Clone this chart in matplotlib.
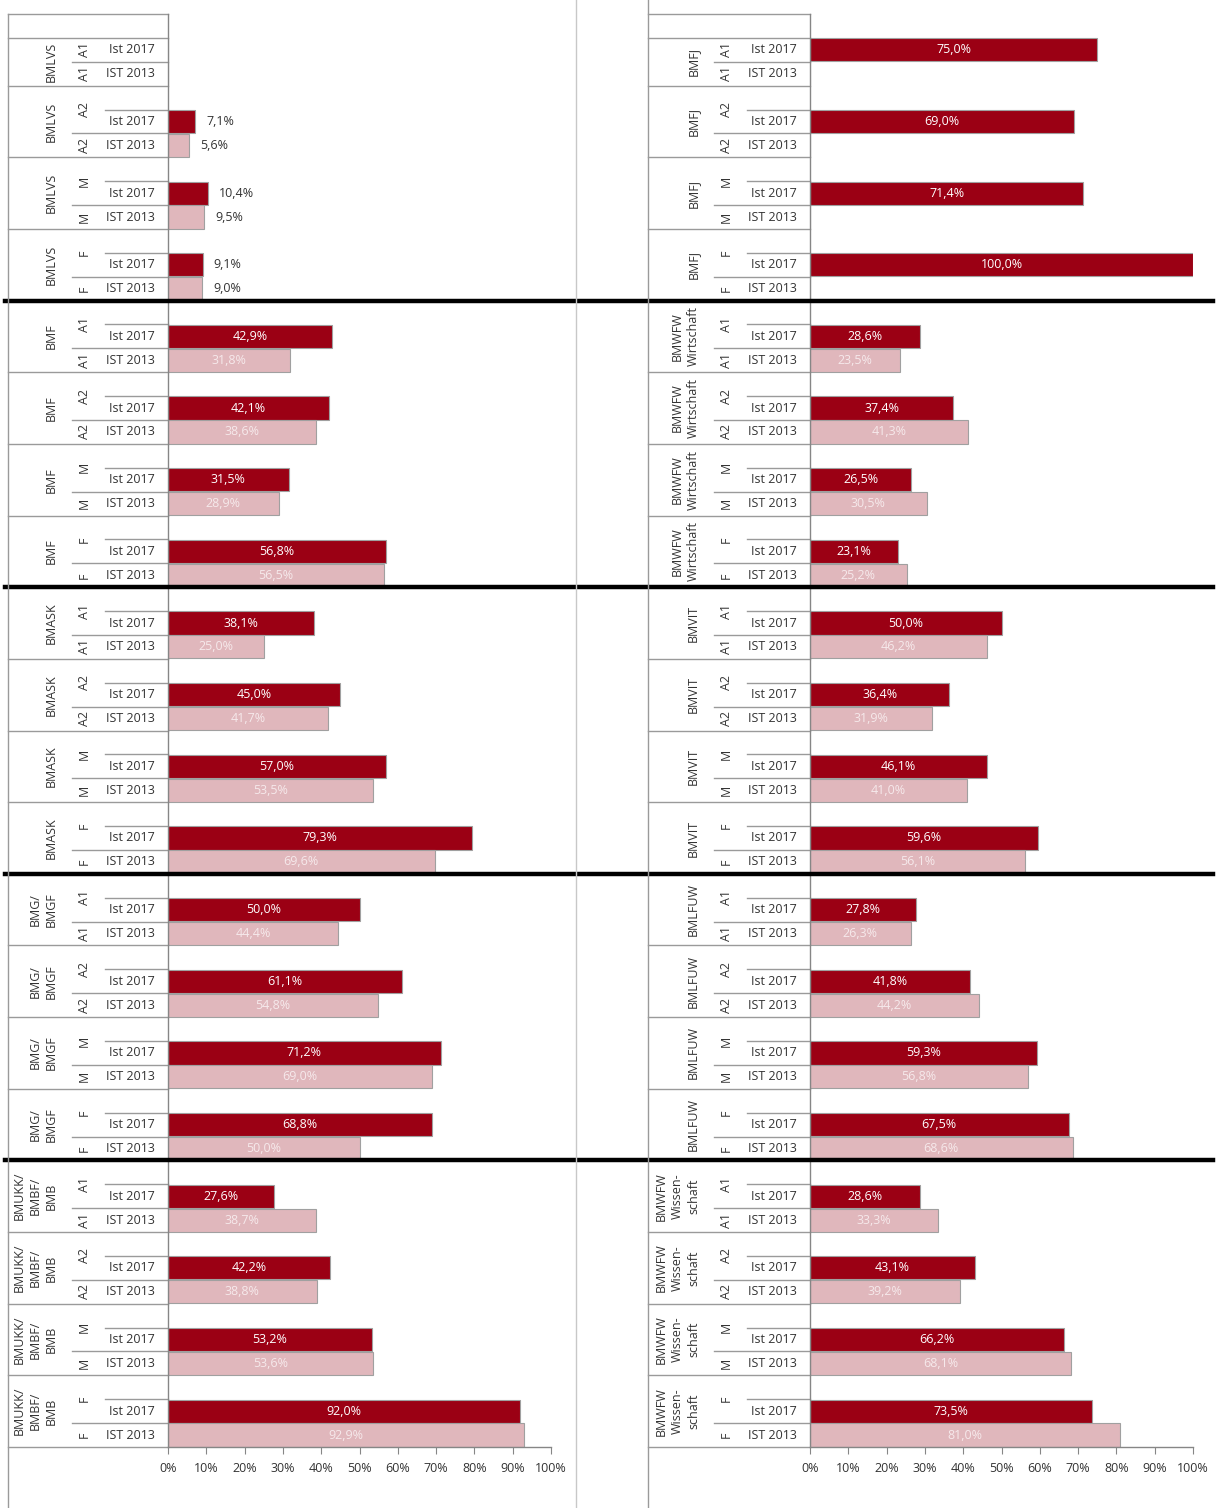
import numpy as np
import matplotlib
matplotlib.use("Agg")
import matplotlib.pyplot as plt
from matplotlib import transforms
from matplotlib.lines import Line2D

plt.rcParams['font.family'] = ['Open Sans', 'DejaVu Sans']
plt.rcParams['font.size'] = 9

nan = np.nan

# data (percent), order per panel: ministry x (A1, A2, M, F)
categories = ["A1", "A2", "M", "F"]
year_labels = ["Ist 2017", "IST 2013"]

left_ministries = ["BMLVS", "BMF", "BMASK", "BMG/\nBMGF", "BMUKK/\nBMBF/\nBMB"]
left_ist2017 = [nan, 7.1, 10.4, 9.1,
                42.9, 42.1, 31.5, 56.8,
                38.1, 45.0, 57.0, 79.3,
                50.0, 61.1, 71.2, 68.8,
                27.6, 42.2, 53.2, 92.0]
left_ist2013 = [nan, 5.6, 9.5, 9.0,
                31.8, 38.6, 28.9, 56.5,
                25.0, 41.7, 53.5, 69.6,
                44.4, 54.8, 69.0, 50.0,
                38.7, 38.8, 53.6, 92.9]

right_ministries = ["BMFJ", "BMWFW\nWirtschaft", "BMVIT", "BMLFUW", "BMWFW\nWissen-\nschaft"]
right_ist2017 = [75.0, 69.0, 71.4, 100.0,
                 28.6, 37.4, 26.5, 23.1,
                 50.0, 36.4, 46.1, 59.6,
                 27.8, 41.8, 59.3, 67.5,
                 28.6, 43.1, 66.2, 73.5]
right_ist2013 = [nan, nan, nan, nan,
                 23.5, 41.3, 30.5, 25.2,
                 46.2, 31.9, 41.0, 56.1,
                 26.3, 44.2, 56.8, 68.6,
                 33.3, 39.2, 68.1, 81.0]

DARK = "#9b0014"
LIGHT = "#e0b7bc"
EDGE = "#a0a0a0"
GRID = "#9a9a9a"
TXT = "#333333"

W, H = 1218, 1508
fig = plt.figure(figsize=(W / 100, H / 100), dpi=100)

top_px, bot_px = 14, 1447
ax_w_px = 383
n_rows = 60


def fmt(v):
    return f"{v:.1f}".replace(".", ",") + "%"


def draw_panel(ax_left_px, table_px, ministries, v17, v13):
    ax = fig.add_axes([ax_left_px / W, 1 - bot_px / H, ax_w_px / W, (bot_px - top_px) / H])
    ax.set_xlim(0, 100)
    ax.set_ylim(n_rows, 0)
    px = lambda p: p / ax_w_px  # pixels -> axes fraction
    tr = transforms.blended_transform_factory(ax.transAxes, ax.transData)

    n_groups = len(v17)
    rows17 = np.array([3 * k + 1.5 for k in range(n_groups)])
    rows13 = rows17 + 1
    a17 = np.array(v17, dtype=float)
    a13 = np.array(v13, dtype=float)
    ax.barh(rows17, np.nan_to_num(a17), height=0.97, color=DARK, edgecolor=EDGE, linewidth=0.8)
    ax.barh(rows13, np.nan_to_num(a13), height=0.97, color=LIGHT, edgecolor=EDGE, linewidth=0.8)

    for vals, rows, col in [(a17, rows17, "white"), (a13, rows13, "#f6e9eb")]:
        for v, r in zip(vals, rows):
            if np.isnan(v):
                continue
            if v < 15:
                ax.annotate(fmt(v), (v, r), xytext=(11, 0), textcoords="offset pixels",
                            ha="left", va="center", color=TXT, fontsize=9)
            else:
                ax.text(v / 2, r, fmt(v), ha="center", va="center", color=col, fontsize=9)

    # label table
    for k in range(n_groups):
        m = ministries[k // 4]
        c = categories[k % 4]
        r0 = 3 * k
        ax.text(-px(13), r0 + 1.5, year_labels[0], transform=tr, ha="right", va="center", color=TXT)
        ax.text(-px(13), r0 + 2.5, year_labels[1], transform=tr, ha="right", va="center", color=TXT)
        if k == 0:
            ax.text(-px(84), r0 + 1.5, c, transform=tr, rotation=90, ha="center", va="center", color=TXT)
            ax.text(-px(110), r0 + 2.0, m, transform=tr, rotation=90, ha="right", va="center",
                    multialignment="center", color=TXT, linespacing=1.3)
            ax.plot([-px(table_px), 0], [r0, r0], transform=tr, color=GRID, lw=1, clip_on=False)
            ax.plot([-px(table_px), 0], [r0 + 1, r0 + 1], transform=tr, color=GRID, lw=1, clip_on=False)
        else:
            ax.text(-px(84), r0 + 1.0, c, transform=tr, rotation=90, ha="center", va="center", color=TXT)
            ax.text(-px(110), r0 + 1.5, m, transform=tr, rotation=90, ha="right", va="center",
                    multialignment="center", color=TXT, linespacing=1.3)
            ax.plot([-px(table_px), 0], [r0, r0], transform=tr, color=GRID, lw=1, clip_on=False)
            ax.plot([-px(63), 0], [r0 + 1, r0 + 1], transform=tr, color=GRID, lw=1, clip_on=False)
        ax.text(-px(84), r0 + 2.5, c, transform=tr, rotation=90, ha="center", va="center", color=TXT)
        ax.plot([-px(96), 0], [r0 + 2, r0 + 2], transform=tr, color=GRID, lw=1, clip_on=False)
    ax.plot([-px(table_px), 0], [n_rows, n_rows], transform=tr, color=GRID, lw=1, clip_on=False)

    ax.set_yticks([])
    ticks = np.arange(0, 101, 10)
    ax.set_xticks(ticks)
    ax.set_xticklabels([f"{t}%" for t in ticks], color=TXT, fontsize=9)
    ax.tick_params(axis="x", direction="out", length=5, color="#868686", pad=6)
    for s in ["top", "right"]:
        ax.spines[s].set_visible(False)
    for s in ["left", "bottom"]:
        ax.spines[s].set_color("#868686")
        ax.spines[s].set_linewidth(1)
    ax.patch.set_visible(False)
    return ax


axL = draw_panel(168, 160, left_ministries, left_ist2017, left_ist2013)
axR = draw_panel(810, 162, right_ministries, right_ist2017, right_ist2013)

# thick separators between ministries across both panels
trY = transforms.blended_transform_factory(fig.transFigure, axL.transData)
for r in [12, 24, 36, 48]:
    fig.add_artist(Line2D([5 / W, 1213 / W], [r, r], transform=trY, color="black", lw=3.2))

# vertical frame lines
for x, y0 in [(8, 14), (648, 0), (576, 0)]:
    col = "#c8c8c8" if x == 576 else GRID
    fig.add_artist(Line2D([x / W, x / W], [0, 1 - y0 / H], transform=fig.transFigure, color=col, lw=1))

fig.savefig("out.png", dpi=100)
